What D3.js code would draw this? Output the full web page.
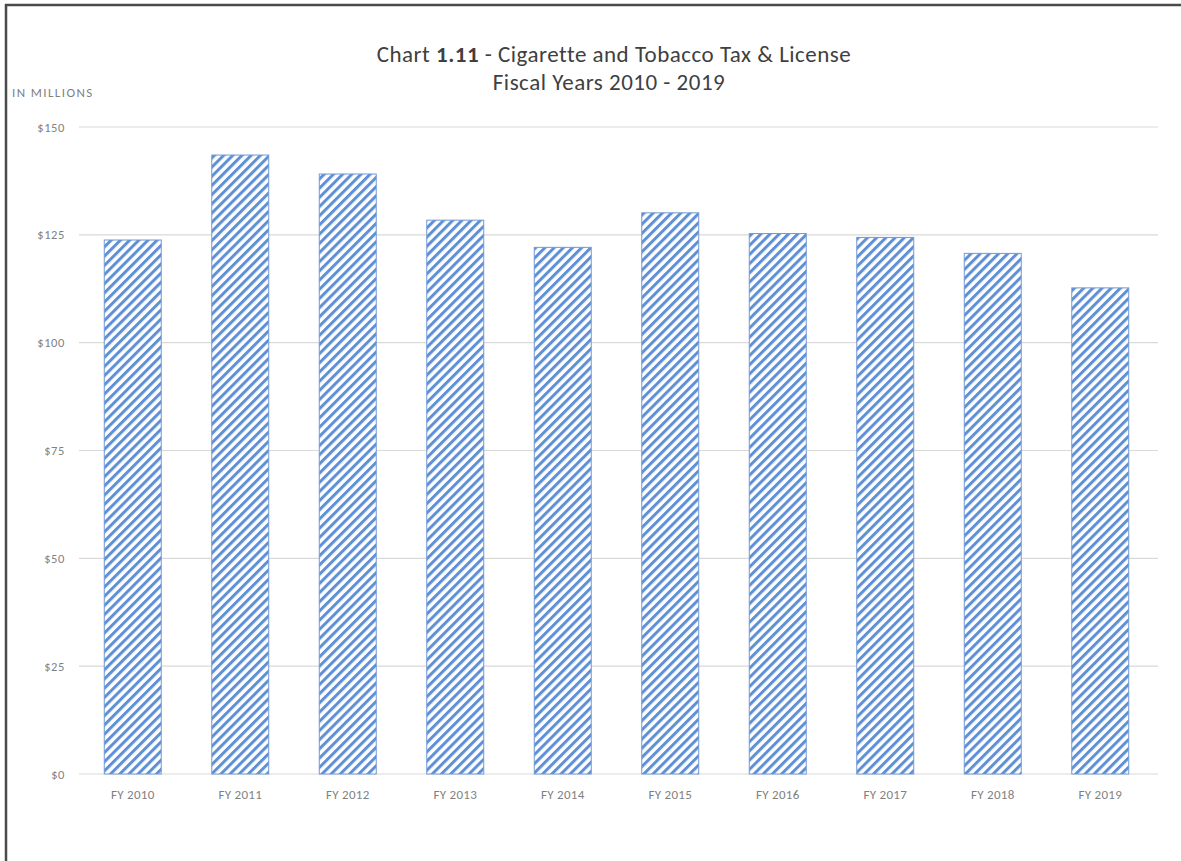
<!DOCTYPE html>
<html>
<head>
<meta charset="utf-8">
<script src="https://cdn.jsdelivr.net/npm/d3@7"></script>
<style>
  html, body { margin: 0; padding: 0; background: #fff; }
  svg { display: block; }
</style>
</head>
<body>
<svg id="chart" width="1181" height="861"></svg>
<script>
const categories = ["FY 2010","FY 2011","FY 2012","FY 2013","FY 2014","FY 2015","FY 2016","FY 2017","FY 2018","FY 2019"];
const values = [123.8, 143.5, 139.1, 128.4, 122.1, 130.1, 125.3, 124.4, 120.7, 112.7];
const yTicks = [0, 25, 50, 75, 100, 125, 150];
const yTickLabels = ["$0","$25","$50","$75","$100","$125","$150"];
const titleLine1 = ["Chart ", "1.11", " - Cigarette  and Tobacco Tax & License"];
const titleLine2 = "Fiscal Years 2010 - 2019";
const unitLabel = "IN MILLIONS";

const svg = d3.select("#chart");
const W = 1181, H = 861;
const font = "Calibri, Carlito, Lato, 'Open Sans', 'Liberation Sans', sans-serif";

// frame (left and top edges visible)
svg.append("line").attr("x1", 6).attr("x2", 6).attr("y1", 4).attr("y2", H)
  .attr("stroke", "#4a4a4a").attr("stroke-width", 2.5);
svg.append("line").attr("x1", 5).attr("x2", W).attr("y1", 5).attr("y2", 5)
  .attr("stroke", "#4a4a4a").attr("stroke-width", 2.5);

// hatch pattern
const defs = svg.append("defs");
const pat = defs.append("pattern").attr("id", "hatch")
  .attr("patternUnits", "userSpaceOnUse")
  .attr("width", 6.5).attr("height", 6.5)
  .attr("patternTransform", "rotate(45)");
pat.append("rect").attr("width", 6.5).attr("height", 6.5).attr("fill", "#ffffff");
pat.append("rect").attr("x", 0).attr("y", 0).attr("width", 3).attr("height", 6.5).attr("fill", "#5f8fd4");

const x = d3.scaleBand().domain(categories).range([79, 1154]).paddingInner(0.47).paddingOuter(0.235);
const y = d3.scaleLinear().domain([0, 150]).range([774, 127]);

// gridlines
const grid = svg.append("g");
grid.selectAll("line").data(yTicks).join("line")
  .attr("x1", 79).attr("x2", 1158)
  .attr("y1", d => y(d)).attr("y2", d => y(d))
  .attr("stroke", "#d9d9d9").attr("stroke-width", 1.2);

// y axis labels
const yAxis = d3.axisLeft(y).tickValues(yTicks).tickSize(0).tickPadding(0)
  .tickFormat((d, i) => yTickLabels[i]);
const ya = svg.append("g").attr("transform", "translate(65,0)").call(yAxis);
ya.select(".domain").remove();
ya.selectAll("text").attr("font-family", font).attr("font-size", 12.5)
  .attr("letter-spacing", 0.6)
  .attr("fill", "#7f7f7f").attr("dy", "0.32em");

// bars
svg.append("g").selectAll("rect").data(values).join("rect")
  .attr("x", (d, i) => x(categories[i]))
  .attr("width", x.bandwidth())
  .attr("y", d => y(d))
  .attr("height", d => y(0) - y(d))
  .attr("fill", "url(#hatch)")
  .attr("stroke", "#7099d6").attr("stroke-width", 1);

// x axis labels
const xAxis = d3.axisBottom(x).tickSize(0).tickPadding(0);
const xa = svg.append("g").attr("transform", "translate(0,790)").call(xAxis);
xa.select(".domain").remove();
xa.selectAll("text").attr("font-family", font).attr("font-size", 13)
  .attr("letter-spacing", 0.3)
  .attr("fill", "#7f7f7f").attr("dy", "0.71em");

// unit label
svg.append("text").attr("x", 12).attr("y", 97).text(unitLabel)
  .attr("font-family", font).attr("font-size", 13).attr("fill", "#7f7f7f")
  .attr("letter-spacing", 1.4);

// title
const t1 = svg.append("text").attr("x", 614).attr("y", 62).attr("text-anchor", "middle")
  .attr("font-family", font).attr("font-size", 23).attr("letter-spacing", 0.5)
  .attr("fill", "#404040");
t1.selectAll("tspan").data(titleLine1).join("tspan")
  .attr("font-weight", (d, i) => i === 1 ? "bold" : "normal")
  .text(d => d);
svg.append("text").attr("x", 609).attr("y", 90).attr("text-anchor", "middle")
  .attr("font-family", font).attr("font-size", 23).attr("letter-spacing", 0.5)
  .attr("fill", "#404040")
  .text(titleLine2);
</script>
</body>
</html>
